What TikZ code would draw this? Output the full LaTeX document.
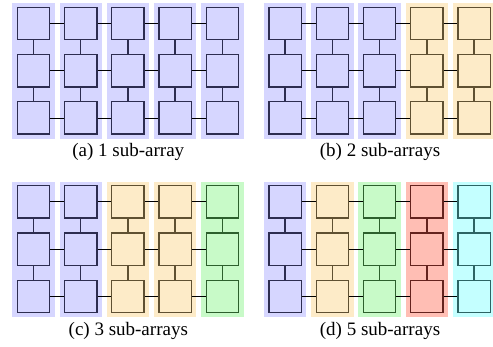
\documentclass[tikz,border=0pt]{standalone}
\usepackage{fontspec}
\setmainfont{Liberation Serif}
\definecolor{fB}{RGB}{214,214,255}
\definecolor{dB}{RGB}{45,45,80}
\definecolor{fO}{RGB}{253,235,200}
\definecolor{dO}{RGB}{95,80,50}
\definecolor{fG}{RGB}{200,250,200}
\definecolor{dG}{RGB}{45,95,45}
\definecolor{fR}{RGB}{255,190,180}
\definecolor{dR}{RGB}{100,35,30}
\definecolor{fC}{RGB}{196,255,255}
\definecolor{dC}{RGB}{45,100,100}
\begin{document}
\begin{tikzpicture}[x=1pt,y=-1pt,
  pe/.style={rectangle, draw=#1, line width=1.3pt, minimum size=32.3pt, inner sep=0pt},
  vlink/.style={draw=#1, line width=1.5pt},
  hlink/.style={draw=black, line width=0.9pt},
  captext/.style={anchor=base, font=\fontsize{19}{22}\selectfont}]
\useasboundingbox (0,0) rectangle (493,346);
\foreach \p/\ox/\oy/\cols/\cap in {
  a/0/0/{B,B,B,B,B}/{(a) 1 sub-array},
  b/251.7/0/{B,B,B,O,O}/{(b) 2 sub-arrays},
  c/0/178.4/{B,B,O,O,G}/{(c) 3 sub-arrays},
  d/251.7/178.4/{B,O,G,R,C}/{(d) 5 sub-arrays}} {
  % backgrounds
  \foreach \k [count=\i from 0] in \cols {
    \fill[f\k] (\ox+33.45+47.25*\i-21.2, \oy+3.3) rectangle (\ox+33.45+47.25*\i+21.2, \oy+138.5);
  }
  % processing elements
  \foreach \k [count=\i from 0] in \cols {
    \foreach \j in {0,1,2} {
      \node[pe=d\k, fill=f\k] (\p\i-\j) at (\ox+33.45+47.25*\i, \oy+23.45+47.25*\j) {};
    }
    \draw[vlink=d\k] (\p\i-0.south) -- (\p\i-1.north);
    \draw[vlink=d\k] (\p\i-1.south) -- (\p\i-2.north);
  }
  % horizontal links
  \foreach \i in {0,...,3} {
    \pgfmathtruncatemacro\ii{\i+1}
    \foreach \j in {0,1,2} {
      \draw[hlink] (\p\i-\j.east) -- (\p\ii-\j.west);
    }
  }
  \node[captext] (cap\p) at (\ox+128.3, \oy+156.7) {\cap};
}
\end{tikzpicture}
\end{document}
